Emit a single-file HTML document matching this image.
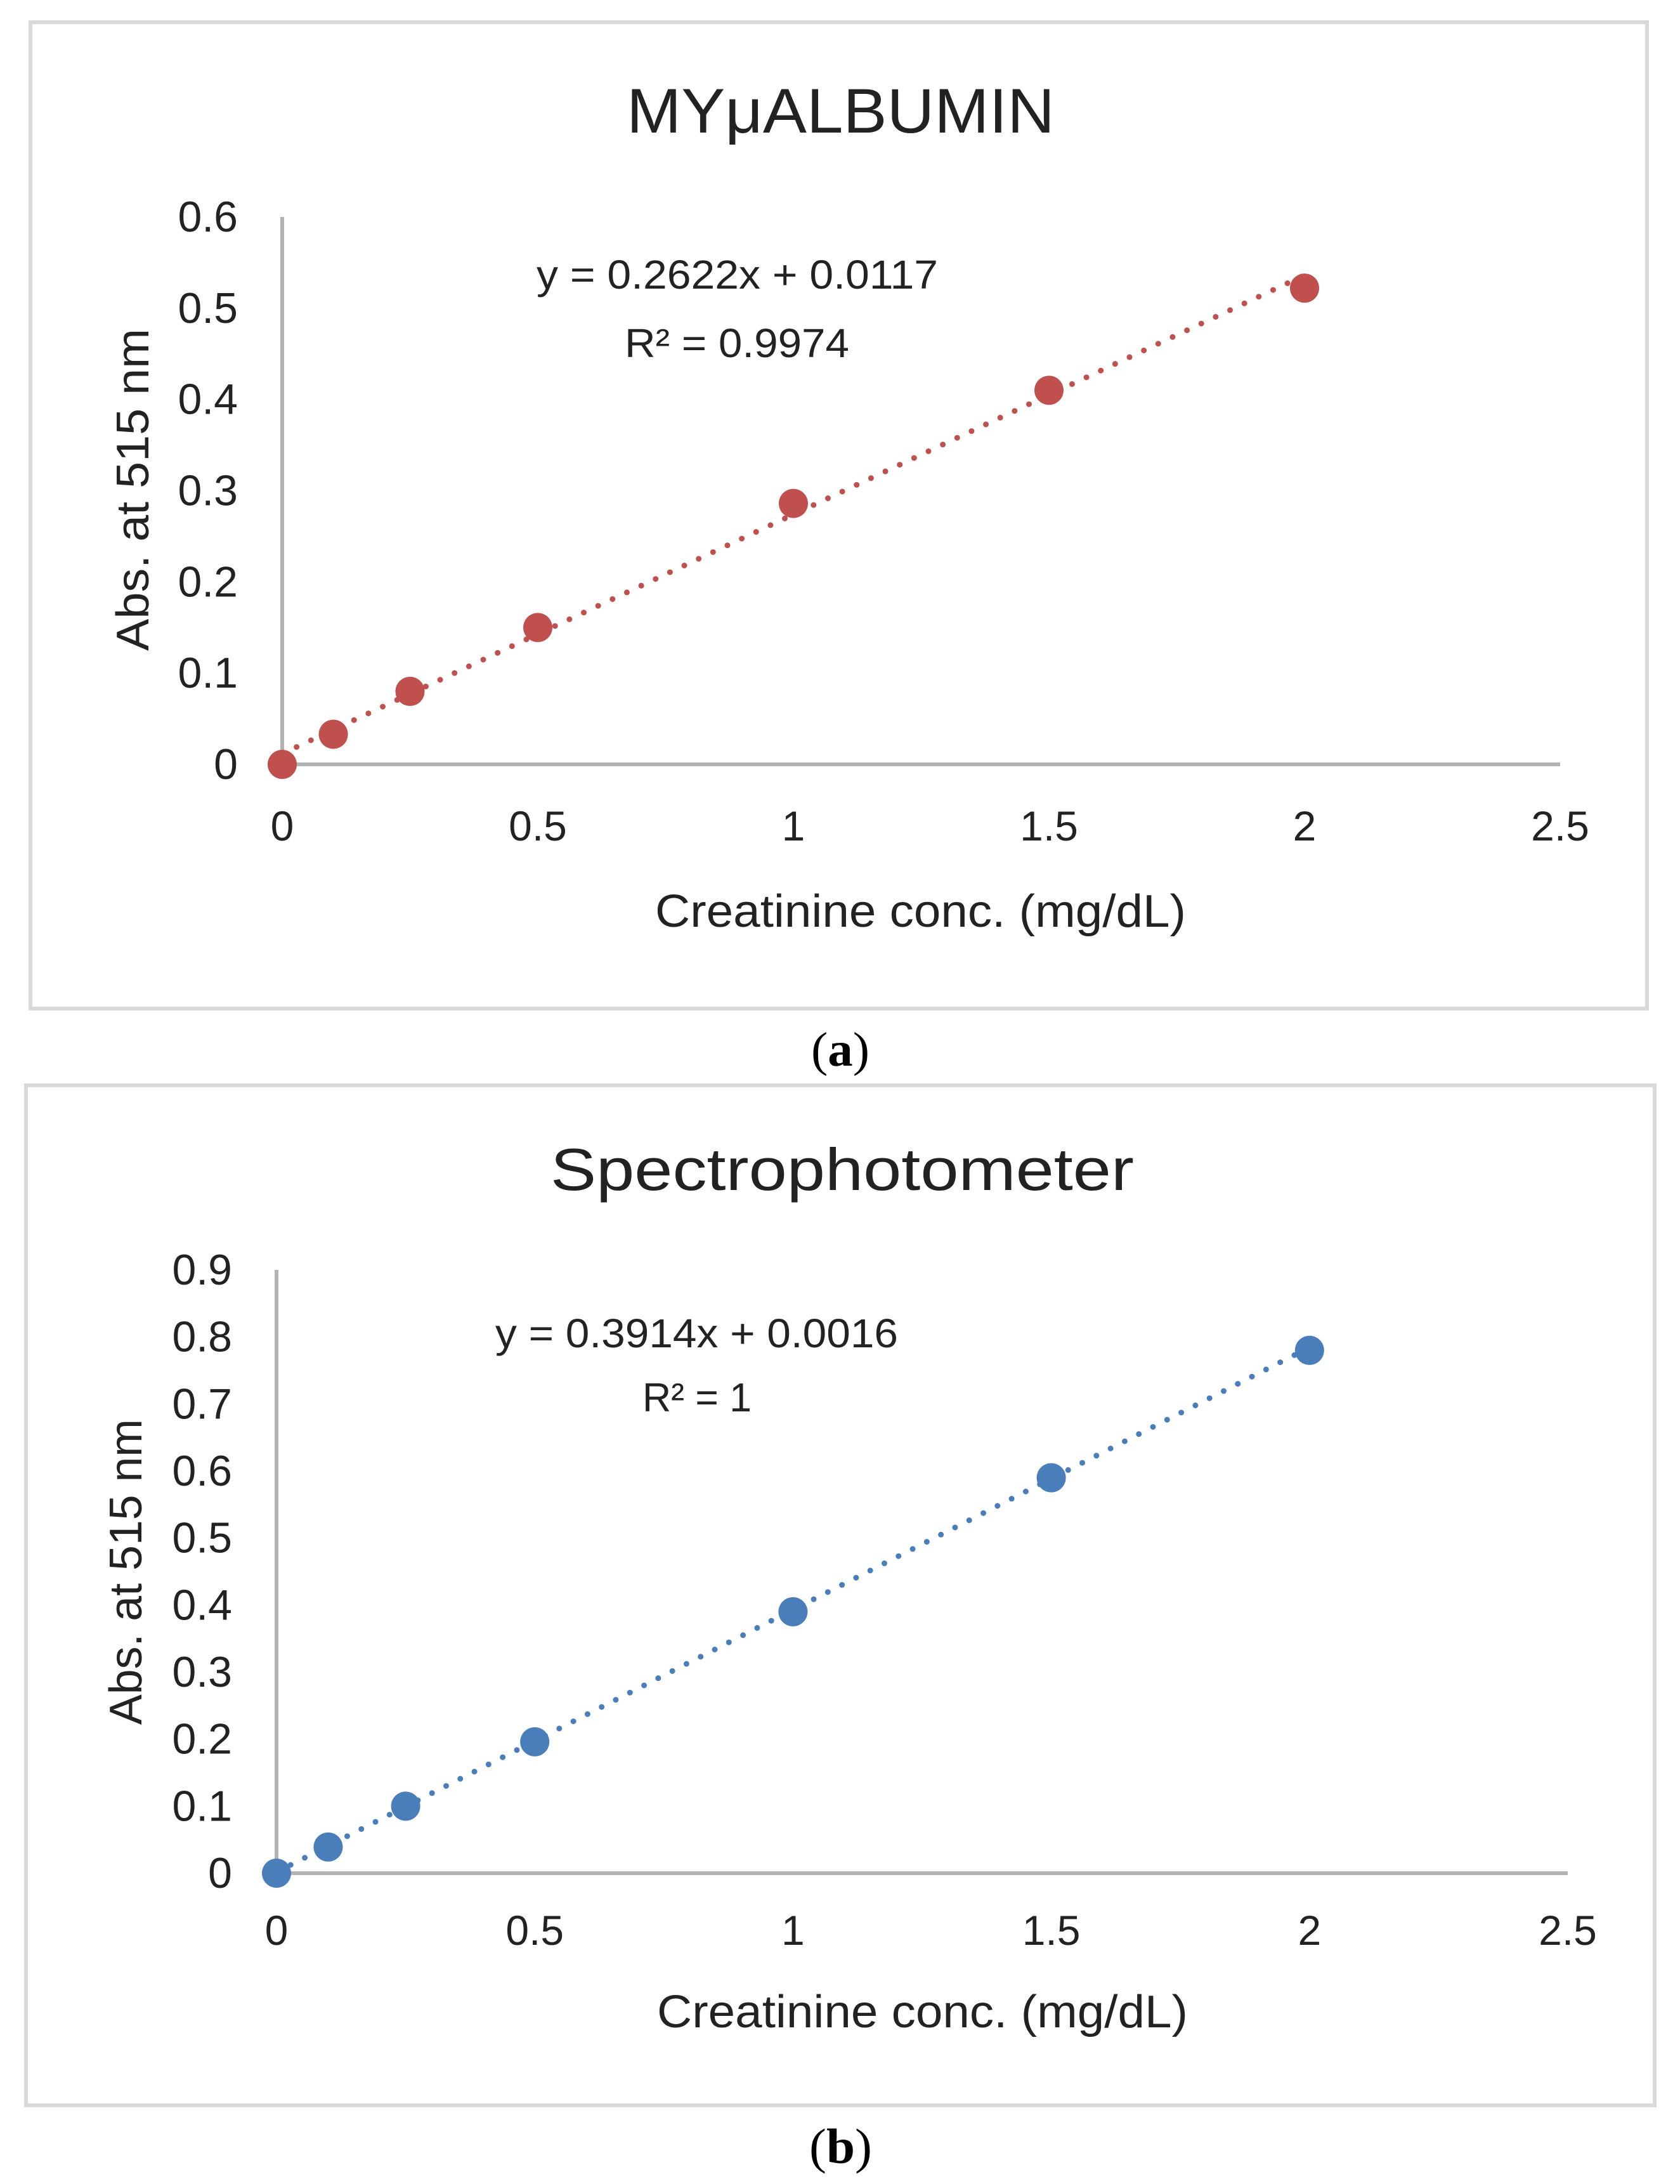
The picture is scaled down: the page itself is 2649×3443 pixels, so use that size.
<!DOCTYPE html>
<html lang="en">
<head>
<meta charset="utf-8">
<title>Creatinine calibration charts</title>
<style>
html,body{margin:0;padding:0;background:#fff;width:2649px;height:3443px;overflow:hidden}
svg{display:block}
text{font-family:"Liberation Sans",sans-serif;fill:#222}
.cap{font-family:"Liberation Serif",serif;fill:#000}
</style>
</head>
<body>
<svg id="fig" xmlns="http://www.w3.org/2000/svg" width="2649" height="3443" viewBox="0 0 2649 3443">
  <rect width="2649" height="3443" fill="#fff"/>

  <g id="chartA">
    <rect x="48" y="35" width="2549" height="1555" fill="#fff" stroke="#d9d9d9" stroke-width="6"/>
    <text x="988" y="209" font-size="99" textLength="675" lengthAdjust="spacingAndGlyphs">MYμALBUMIN</text>
    <text x="846" y="455" font-size="64" textLength="633" lengthAdjust="spacingAndGlyphs">y = 0.2622x + 0.0117</text>
    <text x="985" y="563" font-size="64" textLength="354" lengthAdjust="spacingAndGlyphs">R² = 0.9974</text>
    <text x="1033" y="1461" font-size="72" textLength="837" lengthAdjust="spacingAndGlyphs">Creatinine conc. (mg/dL)</text>
    <text transform="translate(234 1026) rotate(-90)" font-size="72" textLength="508" lengthAdjust="spacingAndGlyphs">Abs. at 515 nm</text>
  </g>
  <text class="cap" x="1279" y="1680" font-size="76" textLength="92" lengthAdjust="spacingAndGlyphs">(<tspan font-weight="bold">a</tspan>)</text>

  <g id="chartB">
    <rect x="41" y="1711" width="2568" height="1608" fill="#fff" stroke="#d9d9d9" stroke-width="6"/>
    <text x="868" y="1876" font-size="94" textLength="920" lengthAdjust="spacingAndGlyphs">Spectrophotometer</text>
    <text x="781" y="2124" font-size="64" textLength="635" lengthAdjust="spacingAndGlyphs">y = 0.3914x + 0.0016</text>
    <text x="1013" y="2225" font-size="64" textLength="172" lengthAdjust="spacingAndGlyphs">R² = 1</text>
    <text x="1036" y="3196" font-size="72" textLength="837" lengthAdjust="spacingAndGlyphs">Creatinine conc. (mg/dL)</text>
    <text transform="translate(223 2719) rotate(-90)" font-size="72" textLength="482" lengthAdjust="spacingAndGlyphs">Abs. at 515 nm</text>
  </g>
  <text class="cap" x="1276" y="3410" font-size="78" textLength="99" lengthAdjust="spacingAndGlyphs">(<tspan font-weight="bold">b</tspan>)</text>
</svg>
<script>
var concentrations = [0, 0.1, 0.25, 0.5, 1, 1.5, 2];
var xTickValues = [0, 0.5, 1, 1.5, 2, 2.5];
var xTickLabels = ['0', '0.5', '1', '1.5', '2', '2.5'];

var absorbanceA = [0, 0.033, 0.08, 0.15, 0.286, 0.41, 0.522];
var yTickValuesA = [0, 0.1, 0.2, 0.3, 0.4, 0.5, 0.6];
var yTickLabelsA = ['0', '0.1', '0.2', '0.3', '0.4', '0.5', '0.6'];
var trendFitA = [0.2622, 0.0117];

var absorbanceB = [0, 0.039, 0.1, 0.196, 0.39, 0.59, 0.78];
var yTickValuesB = [0, 0.1, 0.2, 0.3, 0.4, 0.5, 0.6, 0.7, 0.8, 0.9];
var yTickLabelsB = ['0', '0.1', '0.2', '0.3', '0.4', '0.5', '0.6', '0.7', '0.8', '0.9'];
var trendFitB = [0.3914, 0.0016];

var NS = 'http://www.w3.org/2000/svg';

function make(parent, tag, attrs) {
  var el = document.createElementNS(NS, tag);
  for (var k in attrs) el.setAttribute(k, attrs[k]);
  parent.appendChild(el);
  return el;
}

function drawChart(cfg) {
  var g = document.getElementById(cfg.id);
  var sx = function (v) { return cfg.x0 + (v / cfg.xMax) * (cfg.x1 - cfg.x0); };
  var sy = function (v) { return cfg.y0 + (v / cfg.yMax) * (cfg.y1 - cfg.y0); };

  var yAxis = make(g, 'line', {x1: cfg.x0, x2: cfg.x0, y1: cfg.y1, y2: cfg.y0, stroke: '#b3b3b3', 'stroke-width': 6});
  
  

  var xAxis = make(g, 'line', {x1: cfg.x0, x2: cfg.x1, y1: cfg.y0, y2: cfg.y0, stroke: '#b3b3b3', 'stroke-width': 6});
  
  

  cfg.yTicks.forEach(function (v, i) {
    var t = make(g, 'text', {x: cfg.yLabelX, y: sy(v) + 23, 'font-size': 68, 'text-anchor': 'end'});
    t.textContent = cfg.yLabels[i];
    
    
  });

  xTickValues.forEach(function (v, i) {
    var t = make(g, 'text', {x: sx(v), y: cfg.xLabelY, 'font-size': 66, 'text-anchor': 'middle'});
    t.textContent = xTickLabels[i];
    
    
  });

  var xEnd = concentrations[concentrations.length - 1];
  var trend = make(g, 'line', {
    x1: sx(0), y1: sy(cfg.fit[1]),
    x2: sx(xEnd), y2: sy(cfg.fit[0] * xEnd + cfg.fit[1]),
    stroke: cfg.color, 'stroke-width': 9, 'stroke-linecap': 'round', 'stroke-dasharray': '0 25'
  });
  
  

  concentrations.forEach(function (c, i) {
    var p = make(g, 'circle', {cx: sx(c), cy: sy(cfg.values[i]), r: 23, fill: cfg.color});
    
    
  });
}

drawChart({
  id: 'chartA', x0: 445, x1: 2460, y0: 1205, y1: 342, xMax: 2.5, yMax: 0.6,
  yLabelX: 375, xLabelY: 1325, color: '#c0504d',
  values: absorbanceA, yTicks: yTickValuesA, yLabels: yTickLabelsA, fit: trendFitA
});
drawChart({
  id: 'chartB', x0: 436, x1: 2472, y0: 2953, y1: 2002, xMax: 2.5, yMax: 0.9,
  yLabelX: 366, xLabelY: 3066, color: '#4a7ebb',
  values: absorbanceB, yTicks: yTickValuesB, yLabels: yTickLabelsB, fit: trendFitB
});
</script>
</body>
</html>
